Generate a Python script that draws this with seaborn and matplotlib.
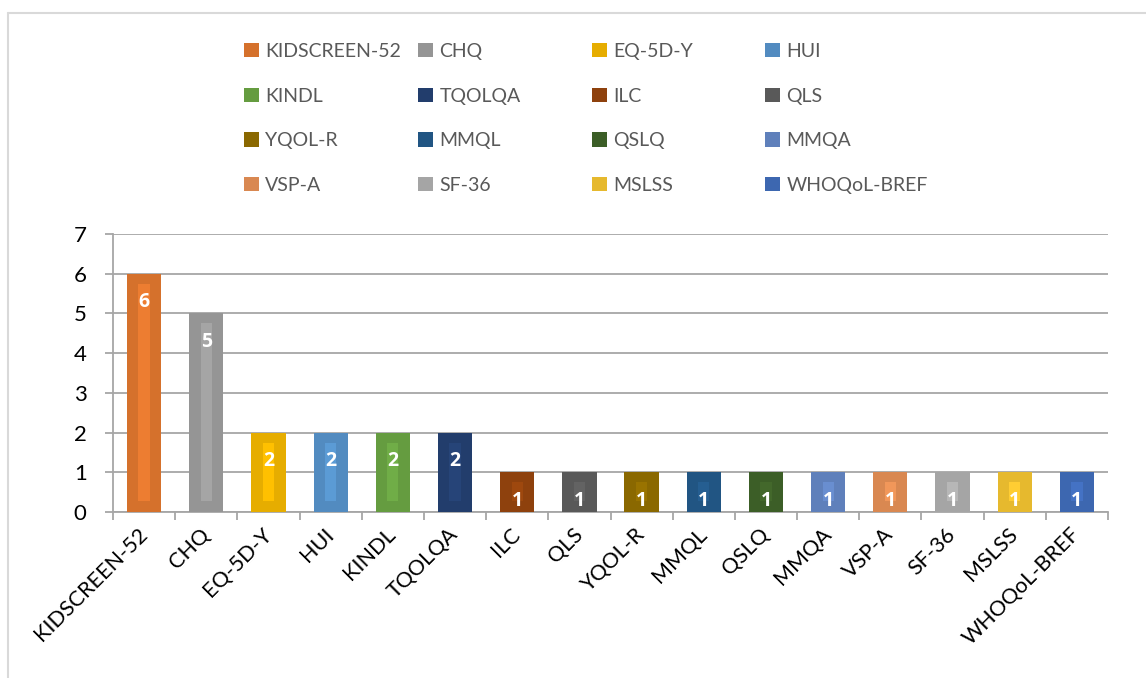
import numpy as np
import matplotlib.pyplot as plt
import matplotlib.colors as mcolors
import seaborn as sns
from matplotlib.patches import Patch
from matplotlib.lines import Line2D

# Data
instruments = ['KIDSCREEN-52', 'CHQ', 'EQ-5D-Y', 'HUI', 'KINDL', 'TQOLQA', 'ILC', 'QLS',
               'YQOL-R', 'MMQL', 'QSLQ', 'MMQA', 'VSP-A', 'SF-36', 'MSLSS', 'WHOQoL-BREF']
counts = [6, 5, 2, 2, 2, 2, 1, 1, 1, 1, 1, 1, 1, 1, 1, 1]
colors = ['#ED7D31', '#A5A5A5', '#FFC000', '#5B9BD5', '#70AD47', '#264478', '#9E480E', '#636363',
          '#997300', '#255E91', '#43682B', '#698ED0', '#F1975A', '#B7B7B7', '#FFCD33', '#4472C4']

sns.set_style('white')
plt.rcParams['font.family'] = ['Lato', 'DejaVu Sans']

# outer bar a bit darker than the inner strip (Office-style shading)
edge_colors = [tuple(c * 0.9 for c in mcolors.to_rgb(h)) for h in colors]

fig = plt.figure(figsize=(11.46, 6.78), dpi=100)
ax = fig.add_axes([113 / 1146, 1 - 512 / 678, (1108 - 113) / 1146, (512 - 234) / 678])

sns.barplot(x=instruments, y=counts, hue=instruments, palette=edge_colors, width=0.55,
            legend=False, ax=ax, zorder=3, saturation=1, linewidth=0, edgecolor='none')

# lighter inner strip
pos = np.arange(len(instruments))
vals = np.array(counts)
ax.bar(pos, vals - 0.52, bottom=0.27, width=0.18, color=colors, zorder=4,
       linewidth=0, edgecolor='none')

# value labels
for i, v in enumerate(counts):
    ax.text(i, v - 0.72, str(v), ha='center', va='center', color='white',
            fontweight='bold', fontsize=14, family=['Open Sans', 'DejaVu Sans'], zorder=5)

grey = '#A6A6A6'
ax.set_ylim(0, 7)
ax.set_xlim(-0.5, len(instruments) - 0.5)
ax.set_yticks(range(0, 8))
ax.yaxis.grid(True, color=grey, lw=1.3, zorder=0)
ax.xaxis.grid(False)
for s in ['top', 'right']:
    ax.spines[s].set_visible(False)
for s in ['left', 'bottom']:
    ax.spines[s].set_color(grey)
    ax.spines[s].set_linewidth(1.3)
ax.set_xlabel('')
ax.set_ylabel('')

ax.tick_params(axis='y', left=True, length=6, width=1.3, color=grey, labelsize=16, pad=13,
               labelcolor='black')
ax.set_xticks(pos)
ax.set_xticklabels(instruments, rotation=45, ha='right', va='center', rotation_mode='anchor',
                   fontsize=15.5)
ax.set_xticks(np.arange(-0.5, len(instruments), 1), minor=True)
ax.tick_params(axis='x', which='major', length=0, pad=14, labelcolor='black')
ax.tick_params(axis='x', which='minor', bottom=True, length=6, width=1.3, color=grey)

# legend: 4 columns, placed individually to mimic the spacing
handles = [Patch(facecolor=c, edgecolor='none') for c in edge_colors]
col_x = [244, 418, 592, 765]
for j in range(4):
    leg = fig.legend(handles[j::4], instruments[j::4], loc='upper left',
                     bbox_to_anchor=(col_x[j] / 1146, 1 - 43 / 678),
                     frameon=False, fontsize=14, ncol=1, borderpad=0, borderaxespad=0,
                     handlelength=0.75, handleheight=0.75, handletextpad=0.35,
                     labelspacing=1.42)
    for t in leg.get_texts():
        t.set_color('#595959')

# light chart frame (top and left edge visible)
fig.add_artist(Line2D([8 / 1146, 1], [1 - 13 / 678] * 2, transform=fig.transFigure,
                      color='#D9D9D9', lw=1.5))
fig.add_artist(Line2D([8 / 1146] * 2, [0, 1 - 13 / 678], transform=fig.transFigure,
                      color='#D9D9D9', lw=1.5))

fig.savefig('out.png', dpi=100)
